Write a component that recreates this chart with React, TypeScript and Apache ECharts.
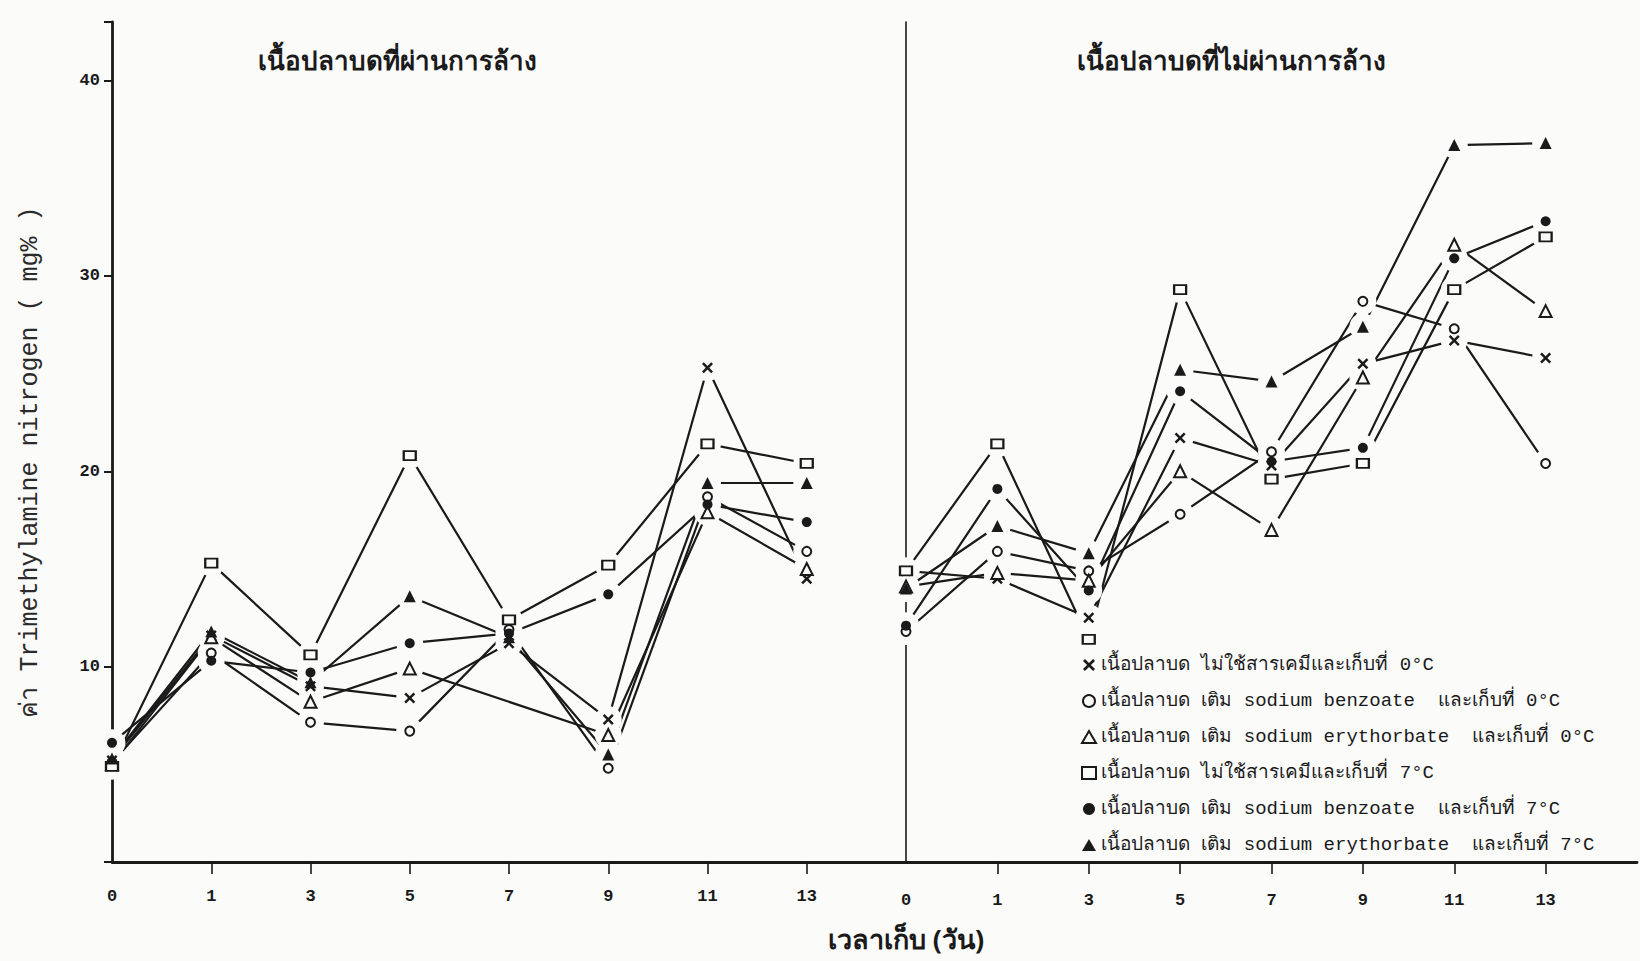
import React, { useEffect, useRef } from 'react';
import * as echarts from 'echarts';

// storage days (category axis); last blank slot is the space after day 13
const days = ['0', '1', '3', '5', '7', '9', '11', '13', ''];
const yTicks = [10, 20, 30, 40];

const panelTitles = ['เนื้อปลาบดที่ผ่านการล้าง', 'เนื้อปลาบดที่ไม่ผ่านการล้าง'];
const xName = 'เวลาเก็บ (วัน)';
const yName = 'ค่า Trimethylamine nitrogen ( mg% )';

const seriesNames = [
  'เนื้อปลาบด ไม่ใช้สารเคมีและเก็บที่ 0°C',
  'เนื้อปลาบด เติม sodium benzoate  และเก็บที่ 0°C',
  'เนื้อปลาบด เติม sodium erythorbate  และเก็บที่ 0°C',
  'เนื้อปลาบด ไม่ใช้สารเคมีและเก็บที่ 7°C',
  'เนื้อปลาบด เติม sodium benzoate  และเก็บที่ 7°C',
  'เนื้อปลาบด เติม sodium erythorbate  และเก็บที่ 7°C',
];

// washed minced fish (left panel)
const washedCtrl0 = [5.2, 11.6, 9.0, 8.4, 11.2, 7.3, 25.3, 14.5];
const washedBenz0 = [5.1, 10.7, 7.15, 6.7, 11.9, 4.8, 18.7, 15.9];
const washedEry0 = [5.0, 11.5, 8.2, 9.9, null, 6.5, 17.9, 15.0];
const washedCtrl7 = [4.9, 15.3, 10.6, 20.8, 12.4, 15.2, 21.4, 20.4];
const washedBenz7 = [6.1, 10.3, 9.7, 11.2, 11.7, 13.7, 18.3, 17.4];
const washedEry7 = [5.3, 11.8, 9.2, 13.6, 11.5, 5.5, 19.4, 19.4];

// unwashed minced fish (right panel)
const unwashedCtrl0 = [14.9, 14.5, 12.5, 21.7, 20.3, 25.5, 26.7, 25.8];
const unwashedBenz0 = [11.8, 15.9, 14.9, 17.8, 21.0, 28.7, 27.3, 20.4];
const unwashedEry0 = [14.1, 14.8, 14.4, 20.0, 17.0, 24.8, 31.6, 28.2];
const unwashedCtrl7 = [14.9, 21.4, 11.4, 29.3, 19.6, 20.4, 29.3, 32.0];
const unwashedBenz7 = [12.1, 19.1, 13.9, 24.1, 20.5, 21.2, 30.9, 32.8];
const unwashedEry7 = [14.0, 17.2, 15.8, 25.2, 24.6, 27.4, 36.7, 36.8];

const washed = [washedCtrl0, washedBenz0, washedEry0, washedCtrl7, washedBenz7, washedEry7];
const unwashed = [unwashedCtrl0, unwashedBenz0, unwashedEry0, unwashedCtrl7, unwashedBenz7, unwashedEry7];

const BG = '#fbfbfa';
const INK = '#1a1a1a';
const CROSS = 'path://M0,1.6L1.6,0L5,3.4L8.4,0L10,1.6L6.6,5L10,8.4L8.4,10L5,6.6L1.6,10L0,8.4L3.4,5Z';
const symbols = [CROSS, 'circle', 'triangle', 'rect', 'circle', 'triangle'];
const symbolSizes: any[] = [11, 9, 12, [12, 9], 10, 12];
const fills = [INK, BG, BG, BG, INK, INK];
const borders = [0, 2, 2, 2, 0, 0];

const MONO = "'Liberation Mono', 'DejaVu Sans Mono', monospace";

function lineSeries(g: number, data: (number | null)[][]) {
  return data.map((vals, k) => ({
    type: 'line',
    name: 'line-' + g + '-' + k,
    xAxisIndex: g,
    yAxisIndex: g,
    data: vals,
    showSymbol: false,
    connectNulls: true,
    silent: true,
    z: 1,
    lineStyle: { color: INK, width: 2.2 },
  }));
}

// background-coloured discs under the markers: the lines stop short of every mark, as in the original
function haloSeries(g: number, data: (number | null)[][]) {
  const halo: any[] = [];
  data.forEach((vals) => vals.forEach((v, i) => { if (v != null) halo.push([i, v]); }));
  return {
    type: 'scatter',
    name: 'halo-' + g,
    xAxisIndex: g,
    yAxisIndex: g,
    data: halo,
    symbol: 'circle',
    symbolSize: 27,
    silent: true,
    z: 5,
    itemStyle: { color: BG, borderWidth: 0, opacity: 1 },
  };
}

function markerSeries(g: number, data: (number | null)[][]) {
  return data.map((vals, k) => ({
    type: 'scatter',
    name: seriesNames[k],
    xAxisIndex: g,
    yAxisIndex: g,
    data: vals.map((v, i) => (v == null ? null : [i, v])).filter((p) => p != null),
    symbol: symbols[k],
    symbolSize: symbolSizes[k],
    z: 8,
    itemStyle: { color: fills[k], borderColor: INK, borderWidth: borders[k], opacity: 1 },
  }));
}

const xAxisBase = (g: number, left: boolean) => ({
  type: 'category',
  gridIndex: g,
  data: days,
  boundaryGap: false,
  axisLine: { show: true, lineStyle: { color: INK, width: 2.8 } },
  axisTick: {
    show: true,
    length: 12,
    interval: (i: number) => i >= 1 && i <= 7,
    lineStyle: { color: INK, width: 1.6 },
  },
  axisLabel: {
    show: true,
    interval: 0,
    margin: left ? 26 : 30,
    fontFamily: MONO,
    fontWeight: 'bold',
    fontSize: 17,
    color: INK,
  },
  splitLine: { show: false },
});

export default function App() {
  const ref = useRef<HTMLDivElement>(null);
  useEffect(() => {
    if (!ref.current) return;
    const chart = echarts.init(ref.current, null, { renderer: 'svg' });
    const option: any = {
      animation: false,
      backgroundColor: BG,
      grid: [
        { left: 112, top: 22, width: 794, height: 840 },
        { left: 906, top: 22, width: 734, height: 840 },
      ],
      xAxis: [xAxisBase(0, true), xAxisBase(1, false)],
      yAxis: [
        {
          type: 'value',
          gridIndex: 0,
          min: 0,
          max: 43,
          interval: 10,
          axisLine: { show: true, lineStyle: { color: INK, width: 2.8 } },
          axisTick: { show: true, length: 8, lineStyle: { color: INK, width: 2 } },
          axisLabel: {
            show: true,
            margin: 12,
            fontFamily: MONO,
            fontWeight: 'bold',
            fontSize: 17,
            color: INK,
            formatter: (v: number) => (yTicks.indexOf(v) >= 0 ? String(v) : ''),
          },
          splitLine: { show: false },
        },
        {
          type: 'value',
          gridIndex: 1,
          min: 0,
          max: 43,
          interval: 10,
          axisLine: { show: true, lineStyle: { color: INK, width: 1.6 } },
          axisTick: { show: false },
          axisLabel: { show: false },
          splitLine: { show: false },
        },
      ],
      legend: {
        show: true,
        orient: 'vertical',
        left: 1076,
        top: 650,
        itemWidth: 14,
        itemHeight: 12,
        itemGap: 16,
        selectedMode: false,
        data: seriesNames,
        textStyle: { fontFamily: MONO, fontSize: 19, color: INK, lineHeight: 20 },
      },
      graphic: [
        {
          type: 'text',
          x: 30,
          y: 462,
          rotation: Math.PI / 2,
          style: { text: yName, align: 'center', verticalAlign: 'middle', font: "25px 'Liberation Mono', 'DejaVu Sans Mono', monospace", fill: '#2a2a2a' },
        },
        {
          type: 'text',
          x: 397,
          y: 60,
          style: { text: panelTitles[0], align: 'center', verticalAlign: 'middle', font: "bold 26px 'Noto Sans', 'DejaVu Sans', sans-serif", fill: INK },
        },
        {
          type: 'text',
          x: 1231,
          y: 60,
          style: { text: panelTitles[1], align: 'center', verticalAlign: 'middle', font: "bold 26px 'Noto Sans', 'DejaVu Sans', sans-serif", fill: INK },
        },
        {
          type: 'text',
          x: 906,
          y: 938,
          style: { text: xName, align: 'center', verticalAlign: 'middle', font: "bold 27px 'Noto Sans', 'DejaVu Sans', sans-serif", fill: INK },
        },
      ],
      series: [
        ...lineSeries(0, washed),
        ...lineSeries(1, unwashed),
        haloSeries(0, washed),
        haloSeries(1, unwashed),
        ...markerSeries(0, washed),
        ...markerSeries(1, unwashed),
      ],
    };
    chart.setOption(option);
    return () => chart.dispose();
  }, []);
  return (
    <div
      ref={ref}
      style={{ position: 'fixed', left: 0, top: 0, width: 1640, height: 961, background: BG }}
    />
  );
}
